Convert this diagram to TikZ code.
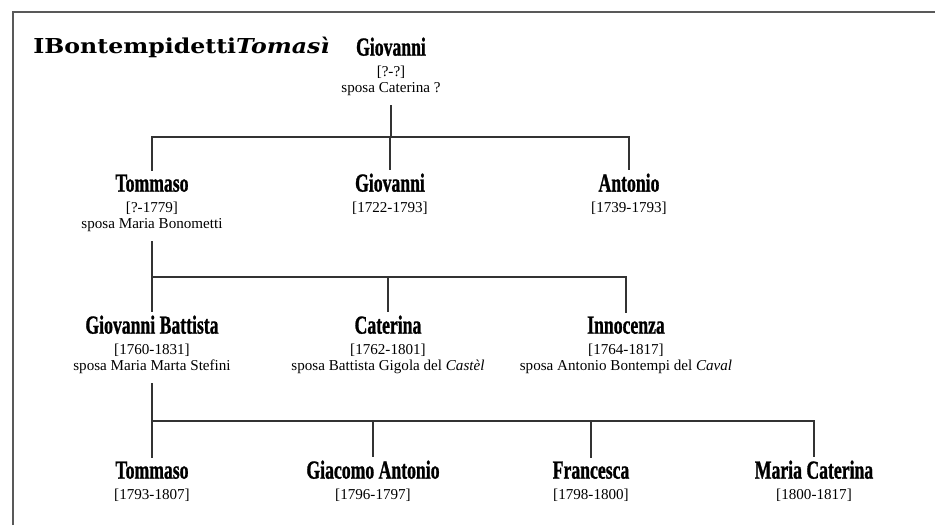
\documentclass[tikz,border=0pt]{standalone}
\usepackage{fontspec}
\setmainfont{Liberation Serif}
\newfontfamily\namefont[FakeStretch=0.68,FakeBold=1]{Liberation Serif}
\newfontfamily\titlefont[FakeStretch=1.15]{DejaVu Serif}
\usepackage{tikz}
\tikzset{
  person/.style     = {align=center, inner sep=2pt, anchor=base,
                       font=\fontsize{8.6}{9.1}\selectfont},
  title/.style      = {anchor=base west, inner sep=0pt,
                       font=\titlefont\bfseries\fontsize{11.7}{12}\selectfont},
  famline/.style    = {line width=0.8pt, black!80},
  parentline/.style = {famline, shorten <=3.5pt},
  frame/.style      = {line width=1.1pt, black!65},
}
\newcommand{\pname}[1]{{\namefont\bfseries\fontsize{14.8}{14.8}\selectfont #1}}

\begin{document}
\begin{tikzpicture}[x=0.02cm, y=-0.02cm]

  \useasboundingbox (0,0) rectangle (935,525);

  % Frame (only top and left edge visible)
  \draw[frame] (13,525) -- (13,12) -- (935,12);

  \node[title] (ttl) at (33,53) {IBontempidetti\textit{Tomasì}};

  % Generation 0 (base = last line)
  \node[person] (gio0) at (391,92) {\pname{Giovanni}\\[2.5pt][?-?]\\sposa Caterina ?};

  % Generation 1
  \node[person] (tom1) at (152,228) {\pname{Tommaso}\\[2.5pt][?-1779]\\sposa Maria Bonometti};
  \node[person] (gio1) at (390,212) {\pname{Giovanni}\\[2.5pt][1722-1793]};
  \node[person] (ant1) at (629,212) {\pname{Antonio}\\[2.5pt][1739-1793]};

  % Generation 2
  \node[person] (gb2)  at (152,370) {\pname{Giovanni Battista}\\[2.5pt][1760-1831]\\sposa Maria Marta Stefini};
  \node[person] (cat2) at (388,370) {\pname{Caterina}\\[2.5pt][1762-1801]\\sposa Battista Gigola del \textit{Castèl}};
  \node[person] (inn2) at (626,370) {\pname{Innocenza}\\[2.5pt][1764-1817]\\sposa Antonio Bontempi del \textit{Caval}};

  % Generation 3
  \node[person] (tom3) at (152,499) {\pname{Tommaso}\\[2.5pt][1793-1807]};
  \node[person] (gia3) at (373,499) {\pname{Giacomo Antonio}\\[2.5pt][1796-1797]};
  \node[person] (fra3) at (591,499) {\pname{Francesca}\\[2.5pt][1798-1800]};
  \node[person] (mca3) at (814,499) {\pname{Maria Caterina}\\[2.5pt][1800-1817]};

  % Bus lines
  \coordinate (bus1) at (0,137);
  \coordinate (bus2) at (0,277);
  \coordinate (bus3) at (0,421);

  % Giovanni -> children
  \draw[parentline] (gio0.south) -- (gio0.south |- bus1);
  \draw[famline] (tom1.north) -- (tom1.north |- bus1) -- (ant1.north |- bus1) -- (ant1.north);
  \draw[famline] (gio1.north) -- (gio1.north |- bus1);

  % Tommaso -> children
  \draw[parentline] (tom1.south) -- (tom1.south |- bus2);
  \draw[famline] (gb2.north) -- (gb2.north |- bus2) -- (inn2.north |- bus2) -- (inn2.north);
  \draw[famline] (cat2.north) -- (cat2.north |- bus2);

  % Giovanni Battista -> children
  \draw[parentline] (gb2.south) -- (gb2.south |- bus3);
  \draw[famline] (tom3.north) -- (tom3.north |- bus3) -- (mca3.north |- bus3) -- (mca3.north);
  \draw[famline] (gia3.north) -- (gia3.north |- bus3);
  \draw[famline] (fra3.north) -- (fra3.north |- bus3);

\end{tikzpicture}
\end{document}
